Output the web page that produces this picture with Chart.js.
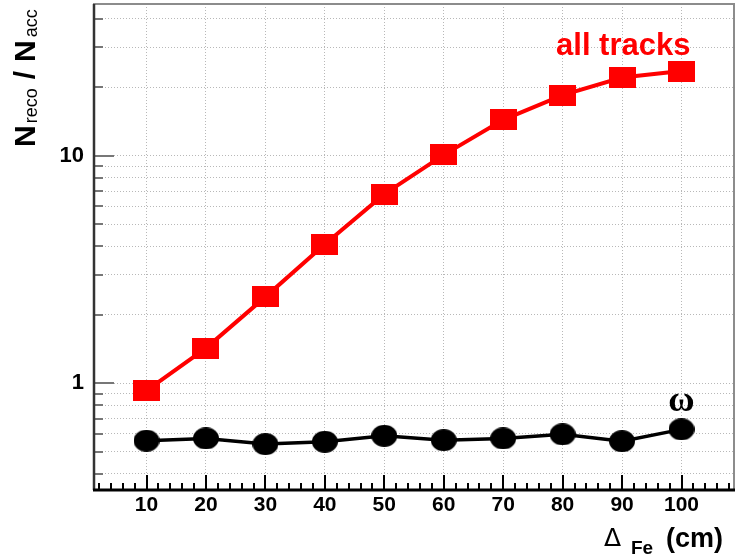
<!DOCTYPE html>
<html>
<head>
<meta charset="utf-8">
<title>N reco / N acc vs iron thickness</title>
<script src="https://cdn.jsdelivr.net/npm/chart.js@4.4.1/dist/chart.umd.min.js"></script>
<style>
  html, body { margin: 0; padding: 0; background: #fff; }
  #wrap { width: 736px; height: 558px; }
</style>
</head>
<body>
<div id="wrap"><canvas id="ratioChart" width="736" height="558"></canvas></div>
<script>
'use strict';

/**
 * data
 */

// iron thickness in cm
const thickness = [10, 20, 30, 40, 50, 60, 70, 80, 90, 100];
const allTracks = [0.93, 1.43, 2.40, 4.09, 6.79, 10.1, 14.4, 18.5, 22.1, 23.6];
const omega = [0.56, 0.573, 0.541, 0.554, 0.588, 0.563, 0.573, 0.597, 0.557, 0.628];

const xTicks = [10, 20, 30, 40, 50, 60, 70, 80, 90, 100];
const yTicks = [0.4, 0.5, 0.6, 0.7, 0.8, 0.9, 1, 2, 3, 4, 5, 6, 7, 8, 9, 10, 20, 30, 40];
const yLabelled = [1, 10];

const SANS = '"Liberation Sans", Arial, sans-serif';


/**
 * marker sprites (wide squares / flattened dots)
 */

const makeMarker = function (shape, color, w, h) {
  const c = document.createElement('canvas');
  c.width = w;
  c.height = h;
  const g = c.getContext('2d');
  g.fillStyle = color;
  if (shape === 'rect') {
    g.fillRect(0, 0, w, h);
  } else {
    g.beginPath();
    g.ellipse(w / 2, h / 2, w / 2, h / 2, 0, 0, Math.PI * 2);
    g.fill();
  }
  return c;
}

const redSquare = makeMarker('rect', '#ff0000', 27, 21);
const blackDot = makeMarker('dot', '#000000', 26, 22);

// keep the plot area fixed: no extra room for end labels
const noEdgePadding = function (scale) {
  scale.paddingLeft = 0;
  scale.paddingRight = 0;
  scale.paddingTop = 0;
  scale.paddingBottom = 0;
}


/**
 * frame, inward ticks, axis titles and text labels
 */

const frame = {
  id: 'frame',
  beforeDatasetsDraw(chart) {
    const { ctx, chartArea: a, scales: { x, y } } = chart;
    ctx.save();

    // light top / right border
    ctx.strokeStyle = '#8c8c8c';
    ctx.lineWidth = 2;
    ctx.beginPath();
    ctx.moveTo(a.left, a.top);
    ctx.lineTo(a.right - 1, a.top);
    ctx.lineTo(a.right - 1, a.bottom);
    ctx.stroke();

    // y ticks, pointing into the plot
    ctx.strokeStyle = '#777';
    ctx.lineWidth = 2;
    yTicks.forEach(function (v) {
      const py = Math.round(y.getPixelForValue(v));
      const len = yLabelled.includes(v) ? 21 : 10;
      ctx.beginPath();
      ctx.moveTo(a.left, py);
      ctx.lineTo(a.left + len, py);
      ctx.stroke();
    });

    // x ticks: majors every 10, minors every 2
    ctx.strokeStyle = '#000';
    for (let v = 2; v <= 108; v += 2) {
      const px = Math.round(x.getPixelForValue(v));
      const len = xTicks.includes(v) ? 15 : 7;
      ctx.beginPath();
      ctx.moveTo(px, a.bottom);
      ctx.lineTo(px, a.bottom - len);
      ctx.stroke();
    }

    // left axis
    ctx.strokeStyle = '#333';
    ctx.lineWidth = 2.5;
    ctx.beginPath();
    ctx.moveTo(a.left + 1, a.top);
    ctx.lineTo(a.left + 1, a.bottom);
    ctx.stroke();

    // bottom axis
    ctx.strokeStyle = '#000';
    ctx.lineWidth = 3;
    ctx.beginPath();
    ctx.moveTo(a.left, a.bottom);
    ctx.lineTo(a.right, a.bottom);
    ctx.stroke();

    ctx.restore();
  },
  afterDraw(chart) {
    const { ctx, scales: { x, y } } = chart;
    ctx.save();
    ctx.fillStyle = '#000';
    ctx.textBaseline = 'alphabetic';

    // series labels
    ctx.textAlign = 'center';
    ctx.fillStyle = '#ff0000';
    ctx.font = 'bold 31px ' + SANS;
    ctx.fillText('all tracks', x.getPixelForValue(90.2), y.getPixelForValue(27.7));

    ctx.fillStyle = '#000';
    ctx.font = 'bold 36px "Liberation Serif", "DejaVu Serif", serif';
    ctx.fillText('ω', x.getPixelForValue(100), y.getPixelForValue(0.76));

    // x title: Δ_Fe (cm)
    ctx.textAlign = 'left';
    ctx.font = '25px "DejaVu Sans", ' + SANS;
    ctx.fillText('Δ', 604, 546);
    ctx.font = 'bold 19px ' + SANS;
    ctx.fillText('Fe', 631, 554);
    ctx.font = 'bold 27px ' + SANS;
    ctx.fillText('(cm)', 666, 547);

    // y title: N_reco / N_acc, reading upwards
    ctx.translate(35, 147);
    ctx.rotate(-Math.PI / 2);
    let cx = 0;
    const big = 'bold 30px ' + SANS;
    const sub = '18px "Liberation Sans Narrow", ' + SANS;
    ctx.font = big;
    ctx.fillText('N', cx, 0);
    cx += ctx.measureText('N').width + 2;
    ctx.font = sub;
    ctx.fillText('reco', cx, 2);
    cx += ctx.measureText('reco').width + 9;
    ctx.font = big;
    ctx.fillText('/', cx, 0);
    cx += ctx.measureText('/').width + 9;
    ctx.fillText('N', cx, 0);
    cx += ctx.measureText('N').width + 3;
    ctx.font = sub;
    ctx.fillText('acc', cx, 2);

    ctx.restore();
  }
};


/**
 * chart
 */

const ctx = document.getElementById('ratioChart').getContext('2d');

new Chart(ctx, {
  type: 'line',
  data: {
    datasets: [
      {
        label: 'all tracks',
        data: thickness.map((t, i) => ({ x: t, y: allTracks[i] })),
        borderColor: '#ff0000',
        borderWidth: 4,
        pointStyle: redSquare,
        pointRadius: 12,
        pointHoverRadius: 12,
        tension: 0
      },
      {
        label: 'ω',
        data: thickness.map((t, i) => ({ x: t, y: omega[i] })),
        borderColor: '#000000',
        borderWidth: 3.5,
        pointStyle: blackDot,
        pointRadius: 12,
        pointHoverRadius: 12,
        tension: 0
      }
    ]
  },
  options: {
    responsive: false,
    animation: false,
    events: [],
    layout: { autoPadding: false, padding: { top: 4, right: 1, left: 0, bottom: 0 } },
    plugins: {
      legend: { display: false },
      tooltip: { enabled: false }
    },
    scales: {
      x: {
        type: 'linear',
        min: 1,
        max: 109,
        afterBuildTicks: function (scale) {
          scale.ticks = xTicks.map(v => ({ value: v }));
        },
        afterFit: function (scale) {
          scale.height = 68;
          noEdgePadding(scale);
        },
        grid: { color: '#b8b8b8', lineWidth: 1, drawTicks: false },
        border: { display: false, dash: [1, 2] },
        ticks: {
          autoSkip: false,
          maxRotation: 0,
          padding: 3,
          color: '#000',
          font: { family: SANS, size: 21, weight: 'bold' }
        }
      },
      y: {
        type: 'logarithmic',
        bounds: 'data',
        min: 0.34,
        max: 46.5,
        afterBuildTicks: function (scale) {
          scale.ticks = yTicks.map(v => ({ value: v }));
        },
        afterFit: function (scale) {
          scale.width = 93;
          noEdgePadding(scale);
        },
        grid: { color: '#b8b8b8', lineWidth: 1, drawTicks: false },
        border: { display: false, dash: [1, 2] },
        ticks: {
          autoSkip: false,
          padding: 9,
          color: '#000',
          font: { family: SANS, size: 22, weight: 'bold' },
          callback: function (v) {
            return yLabelled.includes(v) ? String(v) : '';
          }
        }
      }
    }
  },
  plugins: [frame]
});
</script>
</body>
</html>
